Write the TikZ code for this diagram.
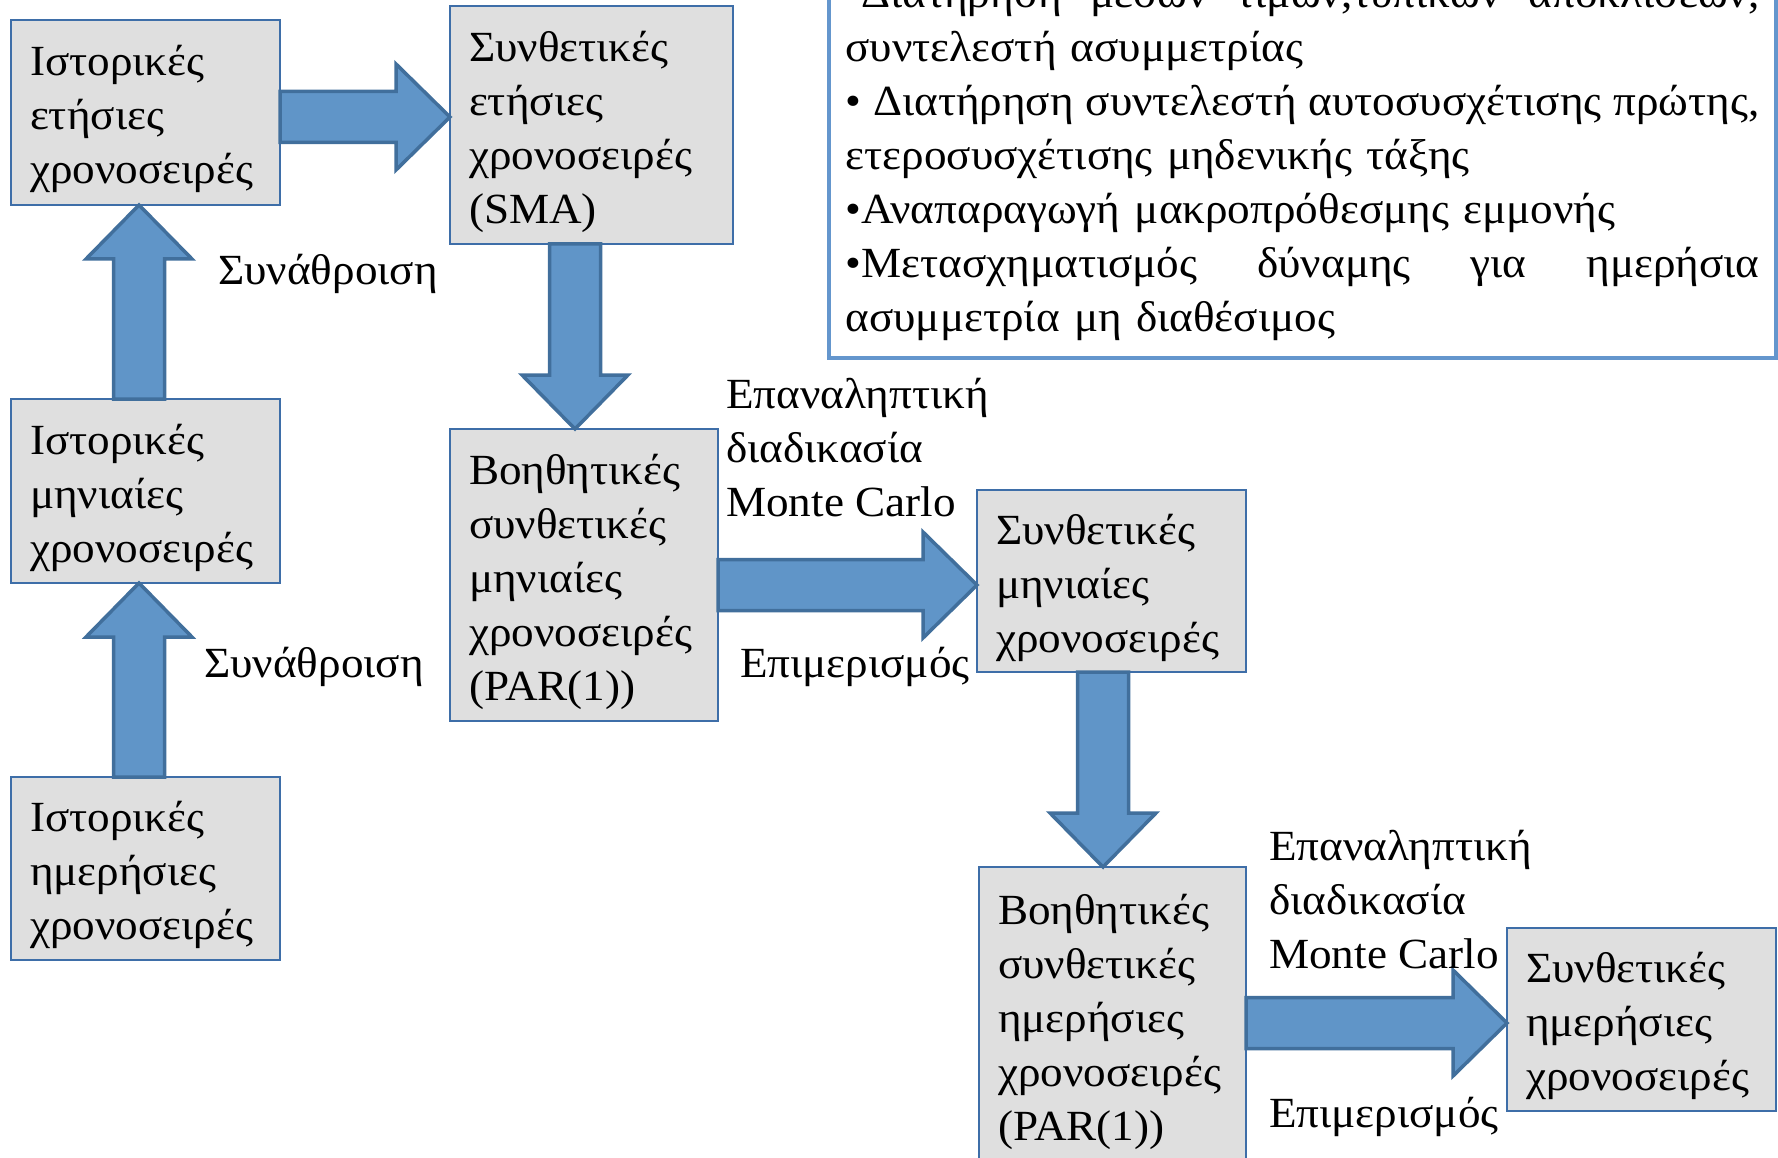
\documentclass[tikz,border=0pt]{standalone}
\usepackage{fontspec}
\setmainfont{Liberation Serif}[FakeStretch=1.05]
\usetikzlibrary{calc}
\definecolor{boxfill}{RGB}{223,223,223}
\definecolor{boxline}{RGB}{62,110,168}
\definecolor{arrfill}{RGB}{96,149,200}
\definecolor{arrline}{RGB}{65,111,156}
\definecolor{tbline}{RGB}{100,150,205}
\newcommand\blockarrow[2]{%
  \coordinate (bas) at (#1);
  \coordinate (tip) at (#2);
  \coordinate (hb) at ($(tip)!54pt!(bas)$);
  \draw[barrow] ($(bas)!25.5pt!90:(tip)$) -- ($(hb)!25.5pt!-90:(bas)$) -- ($(hb)!53pt!-90:(bas)$) -- (tip) -- ($(hb)!53pt!90:(bas)$) -- ($(hb)!25.5pt!90:(bas)$) -- ($(bas)!25.5pt!-90:(tip)$) -- cycle;}
\newcommand\jline[1]{\makebox[914pt][s]{\spaceskip=0pt\xspaceskip=0pt #1}}
\newcommand\tdown{\rule{0pt}{44pt}}
\tikzset{
  bigfont/.style={font=\fontsize{43}{54}\selectfont},
  box/.style={bigfont, draw=boxline, line width=2pt, fill=boxfill, inner xsep=19pt, inner ysep=0pt, outer sep=0pt, align=left},
  barrow/.style={draw=arrline, fill=arrfill, line width=3.5pt, line join=miter},
  lbl/.style={bigfont, inner sep=0pt, align=left, anchor=west}
}
\begin{document}
\begin{tikzpicture}[x=1pt,y=-1pt]
\useasboundingbox (0,0) rectangle (1778,1158);
% boxes
\node[box, minimum width=269, minimum height=185, text width=231] (A) at (145.5,112.5) {\tdown Ιστορικές\\ετήσιες\\χρονοσειρές};
\node[box, minimum width=269, minimum height=184, text width=231] (B) at (145.5,491) {\tdown Ιστορικές\\μηνιαίες\\χρονοσειρές};
\node[box, minimum width=269, minimum height=183, text width=231] (C) at (145.5,868.5) {\tdown Ιστορικές\\ημερήσιες\\χρονοσειρές};
\node[box, minimum width=283, minimum height=238, text width=245] (D) at (591.5,125) {\tdown Συνθετικές\\ετήσιες\\χρονοσειρές\\(SMA)};
\node[box, minimum width=268, minimum height=292, text width=230] (E) at (584,575) {\tdown Βοηθητικές\\συνθετικές\\μηνιαίες\\χρονοσειρές\\(PAR(1))};
\node[box, minimum width=269, minimum height=182, text width=231] (F) at (1111.5,581) {\tdown Συνθετικές\\μηνιαίες\\χρονοσειρές};
\node[box, minimum width=267, minimum height=296, text width=229] (G) at (1112.5,1015) {\tdown Βοηθητικές\\συνθετικές\\ημερήσιες\\χρονοσειρές\\(PAR(1))};
\node[box, minimum width=269, minimum height=183, text width=231] (H) at (1641.5,1019.5) {\tdown Συνθετικές\\ημερήσιες\\χρονοσειρές};
% text box
\node[bigfont, draw=tbline, line width=4pt, anchor=south west, outer sep=0pt, inner xsep=16.5pt, inner ysep=16.5pt, text width=914pt, align=left] (T) at (829,357.5) {%
\jline{•Διατήρηση μέσων τιμών,τυπικών αποκλίσεων,}\\
συντελεστή ασυμμετρίας\\
\jline{• Διατήρηση συντελεστή αυτοσυσχέτισης πρώτης,}\\
ετεροσυσχέτισης μηδενικής τάξης\\
•Αναπαραγωγή μακροπρόθεσμης εμμονής\\
\jline{•Μετασχηματισμός δύναμης για ημερήσια}\\
ασυμμετρία μη διαθέσιμος};
% arrows
\blockarrow{A.east |- 0,117}{D.west |- 0,117}
\blockarrow{B.north -| 139,0}{A.south -| 139,0}
\blockarrow{C.north -| 139,0}{B.south -| 139,0}
\blockarrow{D.south -| 575,0}{E.north -| 575,0}
\blockarrow{E.east |- 0,585}{F.west |- 0,585}
\blockarrow{F.south -| 1103,0}{G.north -| 1103,0}
\blockarrow{G.east |- 0,1023}{H.west |- 0,1023}
% labels
\node[lbl] (l1) at (218,274) {Συνάθροιση};
\node[lbl] (l2) at (204,667) {Συνάθροιση};
\node[lbl] (l3) at (726,448) {Επαναληπτική\\διαδικασία\\Monte Carlo};
\node[lbl] (l4) at (740,667) {Επιμερισμός};
\node[lbl] (l5) at (1269,900) {Επαναληπτική\\διαδικασία\\Monte Carlo};
\node[lbl] (l6) at (1269,1117) {Επιμερισμός};
\end{tikzpicture}
\end{document}
